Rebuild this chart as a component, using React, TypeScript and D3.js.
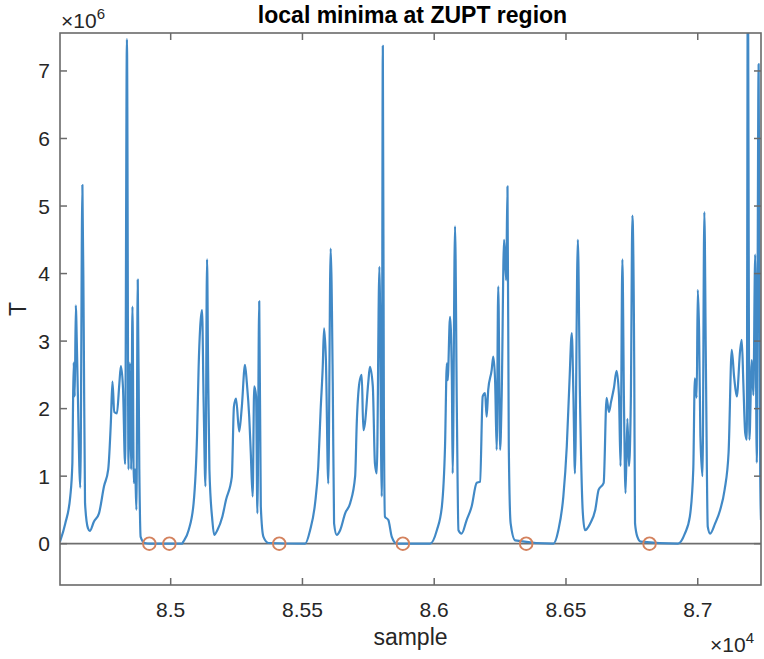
import React, { useEffect, useRef } from "react";
import * as d3 from "d3";

// sample index of each traced point
const sampleIdx = [
  84580, 84600, 84619, 84627, 84629, 84632, 84636, 84640, 84642, 84647, 84657, 84665, 84670, 84675, 84686, 84693,
  84709, 84728, 84747, 84763, 84773, 84779, 84786, 84796, 84805, 84811, 84819, 84827, 84834, 84840, 84845, 84850,
  84855, 84860, 84865, 84870, 84875, 84881, 84886, 84901, 84922, 84997, 85043,
  85048, 85068, 85087, 85100, 85106, 85112, 85119, 85125, 85132, 85138, 85142, 85147, 85158, 85165, 85177, 85196,
  85210, 85232, 85240, 85248, 85260, 85270, 85282, 85289, 85298, 85304, 85311, 85317, 85324, 85329, 85336, 85342,
  85352, 85371, 85510,
  85529, 85548, 85560, 85569, 85577, 85582, 85589, 85598, 85607, 85615, 85620, 85630, 85643, 85662, 85681, 85700,
  85706, 85716, 85725, 85731, 85737, 85750, 85756, 85767, 85775, 85782, 85792, 85801, 85805, 85809, 85813, 85826,
  85839, 85858, 85984,
  86010, 86029, 86041, 86048, 86051, 86060, 86067, 86070, 86079, 86086, 86092, 86104, 86123, 86142, 86161, 86174,
  86184, 86193, 86199, 86205, 86218, 86224, 86231, 86237, 86243, 86250, 86256, 86265, 86273, 86278, 86283, 86290,
  86307, 86452,
  86471, 86490, 86503, 86513, 86522, 86528, 86534, 86545, 86553, 86564, 86572, 86592, 86611, 86624, 86643, 86654,
  86663, 86671, 86682, 86692, 86701, 86707, 86714, 86720, 86726, 86733, 86739, 86746, 86752, 86759, 86762, 86771,
  86784, 86925,
  86951, 86970, 86983, 86989, 86996, 87000, 87005, 87010, 87018, 87025, 87031, 87038, 87047, 87066, 87085, 87102,
  87117, 87129, 87138, 87148, 87161, 87167, 87173, 87180, 87186, 87190, 87196, 87205, 87211, 87218, 87224, 87231,
  87237, 87240,
];

// T value at each point, in units of 1e6
const tMillions = [
  0.03, 0.3, 0.7, 1.2, 1.91, 2.68, 2.18, 3.53, 3.31, 2.36, 0.83, 5.31, 3.21, 0.6, 0.23, 0.19,
  0.33, 0.45, 0.85, 1.1, 1.8, 2.4, 1.95, 1.93, 2.36, 2.63, 2.31, 1.18, 7.47, 1.1, 2.68, 1.1,
  3.51, 0.9, 1.1, 0.5, 3.91, 1.1, 0.1, 0.01, 0, 0, 0,
  0.03, 0.2, 0.6, 1.6, 2.61, 3.21, 3.46, 2.1, 0.85, 4.21, 2.61, 1.1, 0.35, 0.13, 0.2, 0.4,
  0.65, 0.99, 2.03, 2.15, 1.66, 2.03, 2.65, 2.38, 1.88, 1.34, 0.7, 2.33, 2.18, 0.45, 3.59, 0.55,
  0.1, 0.01, 0,
  0.2, 0.6, 1.14, 1.98, 2.62, 3.19, 2.72, 0.89, 4.37, 2.38, 0.3, 0.13, 0.2, 0.45, 0.6, 1.0,
  1.78, 2.38, 2.5, 1.68, 1.78, 2.4, 2.62, 2.33, 1.19, 1.04, 4.1, 0.7, 7.37, 2.0, 0.4, 0.35,
  0.1, 0, 0,
  0.2, 0.55, 1.44, 2.67, 2.42, 3.36, 2.42, 1.04, 4.7, 1.93, 0.2, 0.15, 0.35, 0.55, 0.9, 0.92,
  2.18, 2.23, 1.88, 2.28, 2.57, 2.77, 2.42, 1.39, 3.81, 1.39, 2.18, 4.5, 3.9, 5.29, 1.44, 0.3,
  0.05, 0,
  0.2, 0.7, 1.44, 2.38, 3.12, 2.23, 1.04, 4.5, 2.18, 0.45, 0.2, 0.3, 0.5, 0.8, 0.9, 2.16,
  1.95, 2.1, 2.31, 2.56, 2.2, 1.15, 4.21, 2.1, 0.75, 1.85, 1.15, 2.1, 4.86, 2.61, 0.3, 0.1,
  0.03, 0,
  0.15, 0.4, 1.1, 2.45, 2.16, 3.76, 3.16, 1.6, 1.0, 4.91, 2.61, 0.25, 0.15, 0.3, 0.5, 0.8,
  1.35, 2.87, 2.47, 2.18, 2.87, 3.02, 2.38, 1.64, 1.54, 8.5, 1.54, 2.72, 2.2, 4.28, 1.2, 7.1,
  1.0, 0.35,
];

// detected local minima (ZUPT) sample indices
const minimaIdx = [84919, 84995, 85412, 85881, 86349, 86817];

const xTickValues = [85000, 85500, 86000, 86500, 87000];
const xTickLabels = ["8.5", "8.55", "8.6", "8.65", "8.7"];
const yTickValues = [0, 1, 2, 3, 4, 5, 6, 7];
const yTickLabels = ["0", "1", "2", "3", "4", "5", "6", "7"];

const W = 764;
const H = 659;
const FONT = "'Liberation Sans', Arial, Helvetica, sans-serif";

export default function App() {
  const ref = useRef<SVGSVGElement | null>(null);

  useEffect(() => {
    const svg = d3.select(ref.current);
    svg.selectAll("*").remove();

    const left = 60, right = 761, top = 33, bottom = 585;
    const x = d3.scaleLinear().domain([84580, 87240]).range([left, right]);
    const y = d3.scaleLinear().domain([-0.6116, 7.562]).range([bottom, top]);

    svg.append("rect").attr("width", W).attr("height", H).attr("fill", "#fff");

    const defs = svg.append("defs");
    defs.append("clipPath").attr("id", "plotClip")
      .append("rect").attr("x", left).attr("y", top).attr("width", right - left).attr("height", bottom - top);

    // zero line
    svg.append("line")
      .attr("x1", left).attr("x2", right)
      .attr("y1", y(0)).attr("y2", y(0))
      .attr("stroke", "#6e6e6e").attr("stroke-width", 1.8);

    const pts = sampleIdx.map((s, i) => [s, tMillions[i]] as [number, number]);
    const line = d3.line<[number, number]>()
      .x(d => x(d[0]))
      .y(d => y(d[1]))
      .curve(d3.curveMonotoneX);

    svg.append("path")
      .attr("clip-path", "url(#plotClip)")
      .attr("d", line(pts) as string)
      .attr("fill", "none")
      .attr("stroke", "#4189c6")
      .attr("stroke-width", 2.2)
      .attr("stroke-linejoin", "round");

    svg.append("g").selectAll("circle")
      .data(minimaIdx)
      .join("circle")
      .attr("cx", d => x(d))
      .attr("cy", y(0))
      .attr("r", 6.3)
      .attr("fill", "none")
      .attr("stroke", "#d4825e")
      .attr("stroke-width", 1.9);

    // axes box
    const axisColor = "#6a6a6a";
    svg.append("rect")
      .attr("x", left).attr("y", top).attr("width", right - left).attr("height", bottom - top)
      .attr("fill", "none").attr("stroke", axisColor).attr("stroke-width", 1.6);

    const tl = 7;
    const g = svg.append("g");
    xTickValues.forEach((v, i) => {
      const xp = x(v);
      g.append("line").attr("x1", xp).attr("x2", xp).attr("y1", bottom).attr("y2", bottom - tl)
        .attr("stroke", axisColor).attr("stroke-width", 1.5);
      g.append("line").attr("x1", xp).attr("x2", xp).attr("y1", top).attr("y2", top + tl)
        .attr("stroke", axisColor).attr("stroke-width", 1.5);
      g.append("text").attr("x", xp).attr("y", 617)
        .attr("text-anchor", "middle")
        .attr("font-family", FONT).attr("font-size", 21).attr("fill", "#262626")
        .text(xTickLabels[i]);
    });
    yTickValues.forEach((v, i) => {
      const yp = y(v);
      g.append("line").attr("x1", left).attr("x2", left + tl).attr("y1", yp).attr("y2", yp)
        .attr("stroke", axisColor).attr("stroke-width", 1.5);
      g.append("line").attr("x1", right).attr("x2", right - tl).attr("y1", yp).attr("y2", yp)
        .attr("stroke", axisColor).attr("stroke-width", 1.5);
      g.append("text").attr("x", 50).attr("y", yp + 7.5)
        .attr("text-anchor", "end")
        .attr("font-family", FONT).attr("font-size", 21).attr("fill", "#262626")
        .text(yTickLabels[i]);
    });

    // exponent labels
    const t6 = svg.append("text").attr("x", 61).attr("y", 28)
      .attr("font-family", FONT).attr("font-size", 21).attr("fill", "#262626");
    t6.append("tspan").text("\u00d710");
    t6.append("tspan").attr("font-size", 15).attr("dy", -9).text("6");

    const t4 = svg.append("text").attr("x", 710).attr("y", 652)
      .attr("font-family", FONT).attr("font-size", 21).attr("fill", "#262626");
    t4.append("tspan").text("\u00d710");
    t4.append("tspan").attr("font-size", 15).attr("dy", -9).text("4");

    // title
    svg.append("text").attr("x", (left + right) / 2 + 2).attr("y", 23)
      .attr("text-anchor", "middle")
      .attr("font-family", FONT).attr("font-size", 23).attr("font-weight", "bold").attr("fill", "#000")
      .text("local minima at ZUPT region");

    // axis labels
    svg.append("text").attr("x", (left + right) / 2).attr("y", 645)
      .attr("text-anchor", "middle")
      .attr("font-family", FONT).attr("font-size", 23).attr("fill", "#262626")
      .text("sample");

    svg.append("text")
      .attr("transform", `translate(26, ${(top + bottom) / 2}) rotate(-90)`)
      .attr("text-anchor", "middle")
      .attr("font-family", FONT).attr("font-size", 23).attr("fill", "#262626")
      .text("T");
  }, []);

  return (
    <svg
      ref={ref}
      width={W}
      height={H}
      style={{ position: "absolute", left: 0, top: 0, display: "block" }}
    />
  );
}
